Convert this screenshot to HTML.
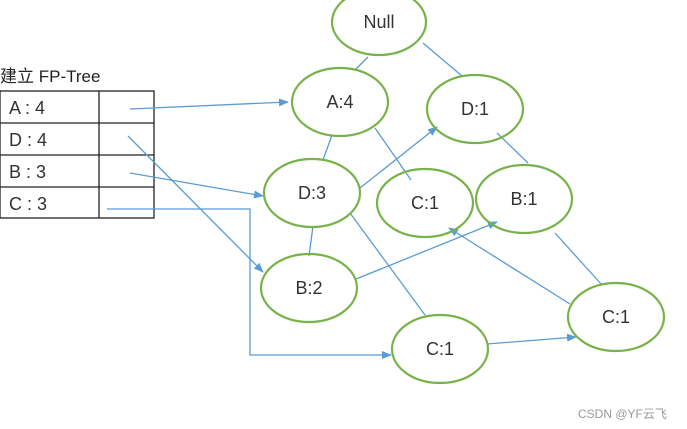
<!DOCTYPE html>
<html><head><meta charset="utf-8"><style>
body{margin:0;background:#fff;}
svg{display:block;font-family:"Liberation Sans","Noto Sans CJK SC",sans-serif;}
</style></head><body>
<svg width="687" height="429" viewBox="0 0 687 429">
<defs><marker id="a" markerWidth="10" markerHeight="8" refX="9" refY="4" orient="auto" markerUnits="userSpaceOnUse"><path d="M0,0 L10,4 L0,8 Z" fill="#5b9bd5"/></marker></defs>
<text x="0" y="82" font-size="17" fill="#222">建立 FP-Tree</text>
<g stroke="#222" stroke-width="1.3" fill="none">
<rect x="0" y="91" width="154" height="127"/>
<line x1="99" y1="91" x2="99" y2="218"/>
<line x1="0" y1="123" x2="154" y2="123"/>
<line x1="0" y1="155" x2="154" y2="155"/>
<line x1="0" y1="187" x2="154" y2="187"/>
</g>
<g font-size="18" fill="#333">
<text x="9" y="114">A : 4</text><text x="9" y="146">D : 4</text><text x="9" y="178">B : 3</text><text x="9" y="210">C : 3</text>
</g>
<g stroke="#5b9bd5" stroke-width="1.3" fill="none">
<line x1="130" y1="109" x2="288" y2="102" marker-end="url(#a)"/>
<line x1="128" y1="136" x2="263" y2="272" marker-end="url(#a)"/>
<line x1="130" y1="173" x2="263" y2="196" marker-end="url(#a)"/>
<polyline points="107,209 250,209 250,355 391,355" marker-end="url(#a)"/>
<line x1="368" y1="57" x2="356" y2="69"/>
<line x1="423" y1="43" x2="462" y2="76"/>
<line x1="332" y1="135" x2="323" y2="160"/>
<line x1="375" y1="128" x2="411" y2="180"/>
<line x1="360" y1="188" x2="437" y2="127" marker-end="url(#a)"/>
<line x1="497" y1="133" x2="528" y2="163"/>
<line x1="313" y1="226" x2="309" y2="256"/>
<line x1="350" y1="213" x2="425" y2="315"/>
<line x1="356" y1="279" x2="497" y2="222" marker-end="url(#a)"/>
<line x1="570" y1="304" x2="449" y2="228" marker-end="url(#a)"/>
<line x1="555" y1="233" x2="602" y2="285"/>
<line x1="487" y1="344" x2="576" y2="337" marker-end="url(#a)"/>
</g>
<g stroke="#77b24a" stroke-width="2.2" fill="none">
<ellipse cx="379" cy="22" rx="47" ry="33"/>
<ellipse cx="340" cy="102" rx="48" ry="34"/>
<ellipse cx="475" cy="109" rx="48" ry="34"/>
<ellipse cx="312" cy="193" rx="48" ry="34"/>
<ellipse cx="425" cy="203" rx="48" ry="34"/>
<ellipse cx="524" cy="199" rx="48" ry="34"/>
<ellipse cx="309" cy="288" rx="48" ry="34"/>
<ellipse cx="440" cy="349" rx="48" ry="34"/>
<ellipse cx="616" cy="317" rx="48" ry="34"/>
</g>
<g font-size="18" fill="#333" text-anchor="middle">
<text x="379" y="28">Null</text>
<text x="340" y="108">A:4</text>
<text x="475" y="115">D:1</text>
<text x="312" y="199">D:3</text>
<text x="425" y="209">C:1</text>
<text x="524" y="205">B:1</text>
<text x="309" y="294">B:2</text>
<text x="440" y="355">C:1</text>
<text x="616" y="323">C:1</text>
</g>
<text x="578" y="418" font-size="12" fill="#999">CSDN @YF云飞</text>
</svg>
</body></html>
